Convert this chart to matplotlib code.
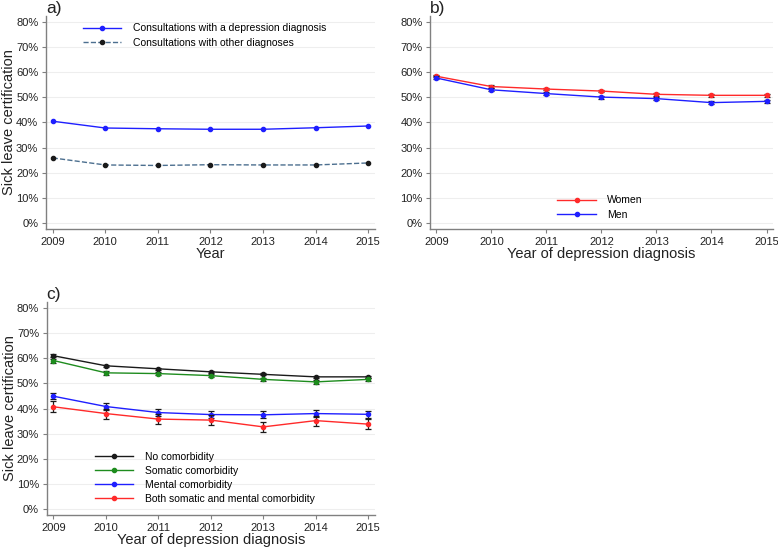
import matplotlib
matplotlib.use("Agg")
import matplotlib.pyplot as plt
import numpy as np

plt.rcParams['font.family'] = ['Liberation Sans', 'DejaVu Sans']

years = [2009, 2010, 2011, 2012, 2013, 2014, 2015]

# panel a
depression = [40.5, 37.8, 37.5, 37.3, 37.3, 37.9, 38.6]
other_diag = [25.9, 23.1, 22.9, 23.2, 23.1, 23.1, 23.9]

# panel b
women = [58.4, 54.3, 53.3, 52.5, 51.2, 50.8, 50.8]
women_err = [0.5, 0.5, 0.5, 0.5, 0.6, 0.5, 0.5]
men = [57.7, 53.0, 51.5, 50.1, 49.5, 47.9, 48.4]
men_err = [0.6, 0.6, 0.6, 0.6, 0.6, 0.6, 0.6]

# panel c
no_comorb = [61.0, 57.0, 55.8, 54.6, 53.6, 52.6, 52.6]
no_comorb_err = [0.5, 0.4, 0.5, 0.4, 0.4, 0.5, 0.5]
somatic = [59.1, 54.2, 53.9, 53.1, 51.6, 50.6, 51.6]
somatic_err = [0.8, 0.7, 0.7, 0.7, 0.7, 0.7, 0.7]
mental = [44.9, 40.8, 38.4, 37.6, 37.5, 38.0, 37.7]
mental_err = [1.3, 1.4, 1.5, 1.3, 1.4, 1.3, 1.5]
both = [40.7, 38.0, 35.8, 35.4, 32.7, 35.2, 33.8]
both_err = [2.1, 2.0, 2.0, 2.0, 2.0, 2.0, 2.0]

BLUE = '#1f1fff'
RED = '#ff2a2a'
GREEN = '#1e8c1e'
BLACK = '#1a1a1a'
GRAY = '#808080'

fig = plt.figure(figsize=(7.78, 5.48), dpi=100)
ax_a = fig.add_axes([0.059, 0.582, 0.423, 0.389])
ax_b = fig.add_axes([0.553, 0.582, 0.440, 0.389])
ax_c = fig.add_axes([0.060, 0.060, 0.422, 0.389])


def style(ax, letter, xlabel, ylabel):
    ax.set_xlim(2008.87, 2015.13)
    ax.set_ylim(-2.4, 82.4)
    ax.set_xticks(years)
    ax.set_yticks(np.arange(0, 81, 10))
    ax.set_yticklabels(['{}%'.format(v) for v in range(0, 81, 10)])
    for y in range(0, 81, 10):
        ax.axhline(y, color='#eeeeee', lw=0.8, zorder=0)
    for s in ['top', 'right']:
        ax.spines[s].set_visible(False)
    for s in ['left', 'bottom']:
        ax.spines[s].set_color(GRAY)
        ax.spines[s].set_linewidth(1.0)
    ax.tick_params(colors=GRAY, labelcolor='#222222', labelsize=8, length=3, pad=2.5)
    ax.set_xlabel(xlabel, fontsize=10.5, labelpad=0, color='#222222')
    if ylabel:
        ax.set_ylabel(ylabel, fontsize=10.5, labelpad=0, color='#222222')
    ax.text(0.0, 1.0, letter, transform=ax.transAxes, fontsize=12.5,
            va='bottom', ha='left', color='#222222')


def legend(ax, x, y, spacing):
    ax.legend(loc='upper left', bbox_to_anchor=(x, y), frameon=False,
              fontsize=7.5, handlelength=3.7, handletextpad=1.1,
              labelspacing=spacing, borderpad=0, borderaxespad=0)


# a)
ax_a.plot(years, depression, color=BLUE, lw=1.0, marker='o', ms=3,
          label='Consultations with a depression diagnosis')
ax_a.plot(years, other_diag, color='#4c6f8f', lw=1.0, ls='--', marker='o', ms=3,
          mfc=BLACK, mec=BLACK, label='Consultations with other diagnoses')
style(ax_a, 'a)', 'Year', 'Sick leave certification')
legend(ax_a, 0.112, 0.965, 0.45)

# b)
for vals, errs, col, lab in [(women, women_err, RED, 'Women'),
                             (men, men_err, BLUE, 'Men')]:
    ax_b.errorbar(years, vals, yerr=errs, fmt='none', ecolor=BLACK,
                  elinewidth=0.9, capsize=2, capthick=0.9)
    ax_b.plot(years, vals, color=col, lw=1.0, marker='o', ms=3, label=lab)
style(ax_b, 'b)', 'Year of depression diagnosis', None)
ax_b.set_xlim(2008.89, 2015.11)
legend(ax_b, 0.371, 0.158, 0.45)

# c)
for vals, errs, col, lab in [(no_comorb, no_comorb_err, BLACK, 'No comorbidity'),
                             (somatic, somatic_err, GREEN, 'Somatic comorbidity'),
                             (mental, mental_err, BLUE, 'Mental comorbidity'),
                             (both, both_err, RED, 'Both somatic and mental comorbidity')]:
    ax_c.errorbar(years, vals, yerr=errs, fmt='none', ecolor=BLACK,
                  elinewidth=0.9, capsize=2, capthick=0.9)
    ax_c.plot(years, vals, color=col, lw=1.0, marker='o', ms=3, label=lab)
style(ax_c, 'c)', 'Year of depression diagnosis', 'Sick leave certification')
legend(ax_c, 0.146, 0.298, 0.4)

fig.savefig('out.png', dpi=100)
